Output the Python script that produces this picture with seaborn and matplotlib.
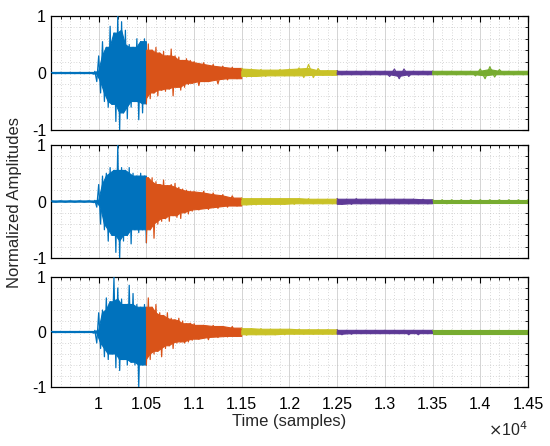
import numpy as np
import pandas as pd
import seaborn as sns
import matplotlib
matplotlib.use('Agg')
import matplotlib.pyplot as plt
from matplotlib.ticker import MultipleLocator, FixedLocator, FuncFormatter

# sample axis (pre-event, strong motion, coda)
t_pre = list(range(9500, 9951, 50))
t_strong = list(range(9960, 10981, 20))
t_tail = list(range(11000, 14501, 50))
samples = t_pre + t_strong + t_tail

# segment borders and colours (MATLAB default order)
seg_edges = [9500, 10500, 11500, 12500, 13500, 14500]
seg_colors = ['#0072BD', '#D95319', '#C9C227', '#5E3A96', '#77AC30']

# peak / trough amplitudes, one list per panel
amp_top = [
    0.01, -0.01, 0.01, -0.01, 0.01, -0.01, 0.01, -0.01, 0.01, -0.02,
    # strong motion
    0.03, -0.15, 0.30, -0.35, 0.55, -0.50, 0.45, -0.60, 0.82, -0.55,
    0.70, -0.85, 1.00, -1.00, 0.90, -0.70, 0.75, -0.80, 0.50, -0.60,
    0.45, -0.50, 0.60, -0.82, 0.55, -0.70, 0.60, -0.54, 0.51, -0.45,
    0.40, -0.35, 0.45, -0.40, 0.35, -0.30, 0.38, -0.32, 0.30, -0.28,
    0.42, -0.40, 0.30, -0.25, 0.28, -0.30, 0.22, -0.25, 0.25, -0.20,
    0.22, -0.18,
    # coda
    0.20, -0.22, 0.18, -0.15, 0.15, -0.19, 0.12, -0.12, 0.10, -0.10,
    0.08, -0.07, 0.07, -0.06, 0.06, -0.06, 0.05, -0.05, 0.06, -0.05,
    0.07, -0.05, 0.09, -0.08, 0.15, -0.08, 0.08, -0.04, 0.04, -0.04,
    0.04, -0.03, 0.03, -0.03, 0.03, -0.03, 0.03, -0.03, 0.03, -0.03,
    0.03, -0.06, 0.07, -0.10, 0.07, -0.06, 0.03, -0.03, 0.03, -0.03,
    0.03, -0.03, 0.03, -0.03, 0.03, -0.03, 0.03, -0.03, 0.03, -0.05,
    0.07, -0.10, 0.11, -0.07, 0.06, -0.03, 0.03, -0.03, 0.03, -0.03,
    0.03,
]
amp_mid = [
    0.01, -0.01, 0.01, -0.01, 0.01, -0.01, 0.01, -0.01, 0.01, -0.02,
    0.02, -0.10, 0.30, -0.40, 0.45, -0.50, 0.50, -0.70, 0.60, -0.60,
    0.55, -0.90, 1.00, -1.00, 0.60, -0.70, 0.55, -0.60, 0.60, -0.75,
    0.50, -0.50, 0.45, -0.55, 0.50, -0.50, 0.45, -0.73, 0.42, -0.50,
    0.42, -0.65, 0.35, -0.40, 0.30, -0.35, 0.38, -0.30, 0.28, -0.35,
    0.30, -0.25, 0.32, -0.28, 0.25, -0.30, 0.22, -0.20, 0.20, -0.22,
    0.18, -0.17,
    0.17, -0.15, 0.18, -0.14, 0.15, -0.12, 0.12, -0.10, 0.10, -0.08,
    0.06, -0.06, 0.05, -0.06, 0.05, -0.05, 0.05, -0.05, 0.05, -0.05,
    0.05, -0.05, 0.05, -0.04, 0.05, -0.04, 0.04, -0.04, 0.04, -0.04,
    0.05, -0.05, 0.04, -0.05, 0.05, -0.04, 0.04, -0.04, 0.04, -0.04,
    0.04, -0.04, 0.04, -0.04, 0.04, -0.04, 0.04, -0.04, 0.04, -0.04,
    0.03, -0.03, 0.03, -0.04, 0.03, -0.03, 0.03, -0.03, 0.03, -0.03,
    0.03, -0.03, 0.03, -0.03, 0.03, -0.03, 0.03, -0.03, 0.03, -0.03,
    0.03,
]
amp_bot = [
    0.01, -0.01, 0.01, -0.01, 0.01, -0.01, 0.01, -0.01, 0.01, -0.02,
    0.03, -0.20, 0.35, -0.30, 0.40, -0.45, 0.62, -0.50, 0.55, -0.40,
    1.00, -0.65, 0.80, -0.70, 0.60, -0.50, 0.50, -0.60, 0.85, -0.55,
    0.70, -0.60, 0.50, -1.00, 0.45, -0.60, 0.50, -0.60, 0.62, -0.50,
    0.45, -0.40, 0.50, -0.35, 0.35, -0.45, 0.30, -0.30, 0.35, -0.25,
    0.25, -0.30, 0.22, -0.20, 0.25, -0.18, 0.20, -0.20, 0.15, -0.18,
    0.16, -0.15,
    0.15, -0.13, 0.12, -0.14, 0.12, -0.10, 0.10, -0.09, 0.10, -0.08,
    0.07, -0.06, 0.06, -0.05, 0.06, -0.05, 0.05, -0.05, 0.05, -0.05,
    0.05, -0.04, 0.05, -0.04, 0.04, -0.04, 0.04, -0.04, 0.04, -0.04,
    0.04, -0.05, 0.03, -0.04, 0.03, -0.03, 0.03, -0.03, 0.03, -0.03,
    0.03, -0.03, 0.03, -0.03, 0.03, -0.05, 0.03, -0.05, 0.03, -0.03,
    0.03, -0.03, 0.03, -0.03, 0.03, -0.03, 0.03, -0.03, 0.03, -0.03,
    0.03, -0.03, 0.03, -0.03, 0.03, -0.03, 0.03, -0.03, 0.03, -0.03,
    0.03,
]

x_ticks = [10000, 10500, 11000, 11500, 12000, 12500, 13000, 13500, 14000, 14500]

sns.set_theme(style='white')
plt.rcParams['font.family'] = ['Liberation Sans', 'DejaVu Sans']
plt.rcParams['axes.unicode_minus'] = False


def to_frame(amps):
    rows = []
    for i in range(len(seg_edges) - 1):
        lo, hi = seg_edges[i], seg_edges[i + 1]
        for t, a in zip(samples, amps):
            if lo <= t <= hi:
                rows.append((t, a, i))
    return pd.DataFrame(rows, columns=['t', 'a', 'seg'])


def core(vals):
    # smaller of neighbouring peaks -> dense body, big peaks stick out as spikes
    s = pd.Series(np.abs(vals))
    return s.rolling(3, center=True, min_periods=1).min().values


def side(part, lo, hi):
    # one edge of the body, held flat out to both segment borders
    x = part['t'].values
    y = core(part['a'].values)
    return np.r_[lo, x, hi], np.r_[y[0], y, y[-1]]


fig = plt.figure(figsize=(5.5, 4.46), dpi=100)
boxes = [
    [0.0927, 0.7085, 0.8673, 0.2556],
    [0.0927, 0.4215, 0.8673, 0.2534],
    [0.0927, 0.1323, 0.8673, 0.2466],
]

for k, (amps, box) in enumerate(zip([amp_top, amp_mid, amp_bot], boxes)):
    assert len(amps) == len(samples)
    ax = fig.add_axes(box)
    df = to_frame(amps)

    for i, grp in df.groupby('seg'):
        lo, hi = seg_edges[i], seg_edges[i + 1]
        ux, uy = side(grp[grp['a'] >= 0], lo, hi)
        dx, dy = side(grp[grp['a'] < 0], lo, hi)
        xs = np.concatenate([ux, dx[::-1]])
        ys = np.concatenate([uy, -dy[::-1]])
        ax.fill(xs, ys, color=seg_colors[i], linewidth=0.8,
                edgecolor=seg_colors[i], zorder=2)

    sns.lineplot(data=df, x='t', y='a', hue='seg', palette=seg_colors,
                 estimator=None, sort=False, linewidth=0.9, legend=False,
                 ax=ax, zorder=3)
    ax.set_xlim(9500, 14500)
    ax.set_ylim(-1, 1)
    ax.xaxis.set_major_locator(FixedLocator(x_ticks))
    ax.xaxis.set_minor_locator(MultipleLocator(100))
    ax.yaxis.set_major_locator(MultipleLocator(1))
    ax.yaxis.set_minor_locator(MultipleLocator(0.2))
    ax.grid(which='major', color='#d4d4d4', linewidth=0.7, linestyle='-')
    ax.grid(which='minor', color='#b4b4b4', linewidth=0.5, linestyle=(0, (1, 3)))
    ax.set_axisbelow(True)
    ax.tick_params(which='both', direction='in', top=True, right=True,
                   colors='black', labelsize=11.5)
    ax.tick_params(which='major', length=4, width=0.8)
    ax.tick_params(which='minor', length=2, width=0.6)
    ax.tick_params(axis='x', which='major', pad=7)
    ax.yaxis.set_major_formatter(FuncFormatter(lambda v, p: f'{v:g}'))
    for s in ax.spines.values():
        s.set_color('black')
        s.set_linewidth(0.9)
    ax.set_ylabel('')
    if k < 2:
        ax.set_xticklabels([])
        ax.set_xlabel('')
    else:
        ax.xaxis.set_major_formatter(FuncFormatter(lambda v, p: f'{v / 1e4:g}'))
        ax.set_xlabel('Time (samples)', fontsize=12, labelpad=2)
        ax.text(1.0, -0.39, r'$\times$10$^{4}$', transform=ax.transAxes,
                ha='right', va='center', fontsize=11.5)

fig.text(0.027, 0.545, 'Normalized Amplitudes', rotation=90,
         ha='center', va='center', fontsize=12)

fig.savefig('out.png', dpi=100)
